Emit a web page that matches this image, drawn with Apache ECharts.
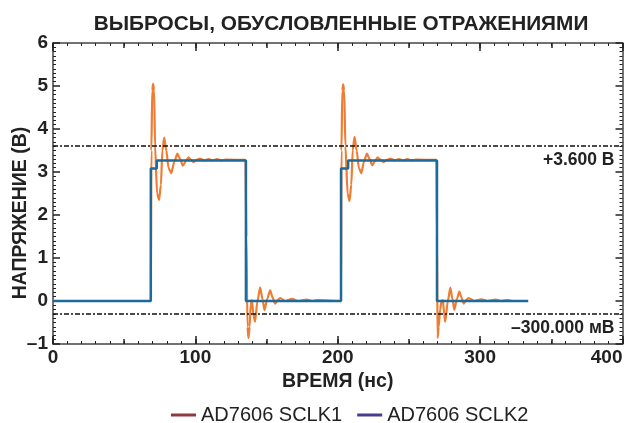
<!DOCTYPE html>
<html>
<head>
<meta charset="utf-8">
<script src="https://cdn.jsdelivr.net/npm/echarts@6/dist/echarts.min.js"></script>
<style>html,body{margin:0;padding:0;background:#fff;}#c{width:627px;height:423px;}</style>
</head>
<body>
<div id="c"></div>
<script>
// ---- data ----
var titleText = 'ВЫБРОСЫ, ОБУСЛОВЛЕННЫЕ ОТРАЖЕНИЯМИ';
var xName = 'ВРЕМЯ (нс)';
var yName = 'НАПРЯЖЕНИЕ (В)';
var legendNames = ['AD7606 SCLK1', 'AD7606 SCLK2'];
var xTicks = [0, 100, 200, 300, 400];
var yTicks = [-1, 0, 1, 2, 3, 4, 5, 6];
var refLevels = [3.6, -0.3];
var refLabels = ['+3.600 В', '–300.000 мВ'];

// SCLK2 (blue)
var t2 = [0, 68.7, 68.7, 72.9, 72.9, 135.5, 135.5, 202.3, 202.3, 207.3, 207.3, 269.7, 269.7, 333.8];
var v2 = [0, 0, 3.08, 3.08, 3.27, 3.27, 0.0, 0.0, 3.08, 3.08, 3.27, 3.27, 0.0, 0.0];

// SCLK1 (orange) – ringing
var t1 = [0, 68.7, 69.1, 69.7, 70.3, 71.0, 71.7, 73.1, 74.5, 75.8, 76.8, 78.1, 79.6, 81.1, 83.0, 85.3, 87.4, 89.3, 91.2, 93.3, 95.2, 96.9, 98.7, 100.7, 103.2, 106.2, 109.2, 112.2, 115.2, 118.2, 121.2, 135.2,
  135.8, 136.6, 137.3, 138.1, 138.8, 139.7, 140.7, 141.9, 143.6, 145.5, 147.1, 148.5, 150.5, 152.5, 154.3, 156.0, 157.8, 159.6, 163.1, 167.8, 172.1, 178.1, 182.1, 185.6, 202.3,
  202.6, 203.2, 203.8, 204.5, 205.4, 206.9, 208.3, 209.5, 210.5, 211.8, 213.3, 214.8, 216.5, 218.5, 220.5, 222.4, 224.2, 226.1, 228.0, 230.1, 232.2, 234.5, 237.0, 240.0, 243.0, 245.9, 248.9, 251.9, 254.9, 269.3,
  269.7, 270.1, 270.9, 271.9, 272.9, 273.9, 274.7, 275.5, 277.3, 279.1, 280.5, 281.9, 283.7, 285.4, 286.9, 288.4, 290.2, 291.9, 295.9, 300.9, 304.9, 310.9, 314.9, 318.9, 322.5];
var v1 = [0, 0, 3.5, 4.9, 5.05, 4.9, 3.6, 2.5, 2.35, 2.7, 3.5, 3.80, 3.5, 3.1, 2.97, 3.25, 3.43, 3.3, 3.15, 3.25, 3.34, 3.28, 3.23, 3.28, 3.31, 3.27, 3.30, 3.27, 3.30, 3.27, 3.29, 3.28,
  1.5, -0.6, -0.86, -0.6, -0.1, 0.02, -0.3, -0.48, 0.0, 0.32, 0.05, -0.21, 0.05, 0.25, 0.08, -0.06, 0.02, 0.07, 0.0, 0.05, 0.0, 0.03, 0.0, 0.02, 0.0,
  3.5, 4.9, 5.04, 4.9, 3.6, 2.5, 2.33, 2.7, 3.5, 3.82, 3.5, 3.1, 2.97, 3.25, 3.43, 3.3, 3.16, 3.25, 3.34, 3.28, 3.23, 3.28, 3.31, 3.27, 3.30, 3.27, 3.30, 3.27, 3.29, 3.28,
  1.5, -0.86, -0.6, -0.2, 0.0, 0.02, -0.3, -0.48, 0.0, 0.31, 0.05, -0.2, 0.05, 0.22, 0.08, -0.06, 0.02, 0.07, 0.0, 0.04, 0.0, 0.03, 0.0, 0.02, 0.0];

function pairs(t, v) { var out = []; for (var i = 0; i < t.length; i++) out.push([t[i], v[i]]); return out; }

var FONT = '"Liberation Sans", Arial, sans-serif';
var axisCol = '#444';
var labelStyle = { fontFamily: FONT, fontWeight: 'bold', fontSize: 19, color: '#222' };
var nameStyle = { fontFamily: FONT, fontWeight: 'bold', fontSize: 19.5, color: '#222' };

function xAx(pos, interval, tickLen, labels, minor, line, nameOn) {
  return {
    type: 'value', min: 0, max: 400, interval: interval, position: pos, gridIndex: 0,
    axisLine: { show: line, onZero: false, lineStyle: { color: axisCol, width: 1.5 } },
    axisTick: { show: true, inside: true, length: tickLen, lineStyle: { color: '#222', width: 1.5 } },
    minorTick: { show: minor, splitNumber: 10, length: 3, lineStyle: { color: '#222', width: 1 } },
    axisLabel: Object.assign({ show: labels, margin: 4, alignMaxLabel: 'right',
      formatter: function (v) { return xTicks.indexOf(v) >= 0 ? String(v) : ''; } }, labelStyle),
    splitLine: { show: false },
    name: nameOn ? xName : '', nameLocation: 'middle', nameGap: 28,
    nameTextStyle: nameStyle
  };
}
function yAx(pos, labels) {
  return {
    type: 'value', min: -1, max: 6, interval: 1, position: pos, gridIndex: 0,
    axisLine: { show: true, onZero: false, lineStyle: { color: axisCol, width: 1.5 } },
    axisTick: { show: true, inside: true, length: 7, lineStyle: { color: '#222', width: 1.5 } },
    minorTick: { show: true, splitNumber: 10, length: 3, lineStyle: { color: '#222', width: 1 } },
    axisLabel: Object.assign({ show: labels, margin: 5, formatter: function (v) { return yTicks.indexOf(v) >= 0 ? String(v).replace('-', '–') : ''; } }, labelStyle),
    splitLine: { show: false }
  };
}

var chart = echarts.init(document.getElementById('c'), null, { renderer: 'canvas' });
chart.setOption({
  animation: false,
  backgroundColor: '#fff',
  title: {
    text: titleText, left: 336, top: 9, textAlign: 'center',
    textStyle: { fontFamily: FONT, fontWeight: 'bold', fontSize: 20.8, color: '#222' }
  },
  graphic: [{
    type: 'text', x: 21, y: 213, rotation: Math.PI / 2,
    style: { text: yName, fontFamily: FONT, fontWeight: 'bold', fontSize: 19.5, fill: '#222', align: 'center', verticalAlign: 'middle' }
  }],
  legend: {
    data: legendNames, top: 400, left: 166, icon: 'rect', itemWidth: 25, itemHeight: 3, itemGap: 15,
    textStyle: { fontFamily: FONT, fontSize: 20, color: '#222' }
  },
  grid: { left: 53, right: 4.5, top: 43, bottom: 79, containLabel: false, outerBoundsMode: 'none' },
  xAxis: [
    xAx('bottom', 100, 8, true, true, true, true),
    xAx('bottom', 50, 5, false, false, false, false),
    xAx('top', 100, 8, false, true, true, false),
    xAx('top', 50, 5, false, false, false, false)
  ],
  yAxis: [yAx('left', true), yAx('right', false)],
  series: [
    { name: legendNames[0], type: 'line', data: [], color: '#8e3a3f', itemStyle: { color: '#8e3a3f' }, lineStyle: { color: '#8e3a3f' } },
    { name: legendNames[1], type: 'line', data: [], color: '#463d8f', itemStyle: { color: '#463d8f' }, lineStyle: { color: '#463d8f' } },
    {
      name: 'sclk1', type: 'line', data: pairs(t1, v1), showSymbol: false, smooth: 0.25, smoothMonotone: 'x',
      lineStyle: { color: '#ee7d34', width: 2.2 }, z: 2
    },
    {
      name: 'sclk2', type: 'line', data: pairs(t2, v2), showSymbol: false,
      lineStyle: { color: '#1d6a9b', width: 2.5 }, z: 3,
      markLine: {
        silent: true, symbol: 'none', animation: false,
        lineStyle: { color: '#111', type: [5, 2, 2, 2], width: 1.5 },
        label: { position: 'insideEndBottom', distance: [8, 5], fontFamily: FONT, fontWeight: 'bold', fontSize: 17.5, color: '#222',
          formatter: function (p) { return refLabels[refLevels.indexOf(p.value)]; } },
        data: refLevels.map(function (l) { return { yAxis: l }; })
      }
    }
  ]
});
</script>
</body>
</html>
